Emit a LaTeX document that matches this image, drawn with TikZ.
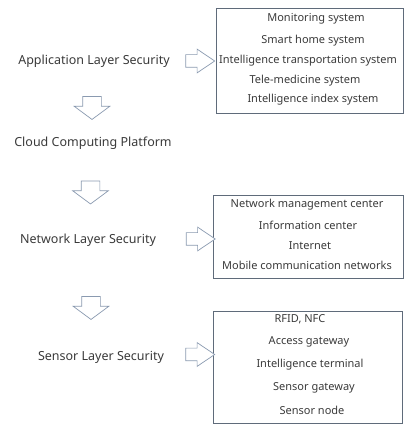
\documentclass[tikz,border=0pt]{standalone}
\usepackage{fontspec}
\setmainfont{Noto Sans}
\usepackage{tikz}
\usetikzlibrary{shapes.arrows}
\definecolor{txtgray}{HTML}{3A3A3A}
\definecolor{boxline}{HTML}{5F6B7A}
\definecolor{arrline}{HTML}{8A9AB0}
\tikzset{
  layer/.style={
    text=txtgray,
    font=\fontsize{12.5}{14}\selectfont
  },
  item/.style={
    text=txtgray,
    font=\fontsize{11}{13}\selectfont,
    text height=8pt,
    text depth=2pt,
    inner sep=0pt
  },
  listbox/.style={
    draw=boxline,
    line width=0.8pt,
    inner sep=0pt
  },
  rightarr/.style={
    single arrow,
    draw=arrline,
    fill=white,
    line width=0.7pt,
    inner sep=0pt,
    inner ysep=6pt,
    minimum height=29pt,
    single arrow head extend=5.5pt,
    single arrow tip angle=68
  },
  downarr/.style={
    single arrow,
    draw=arrline,
    fill=white,
    line width=0.7pt,
    inner sep=0pt,
    inner ysep=9pt,
    minimum height=23pt,
    single arrow head extend=8.5pt,
    single arrow tip angle=107,
    rotate=-90
  }
}

\begin{document}
\begin{tikzpicture}[x=1pt,y=1pt]
  \useasboundingbox (0,0) rectangle (406,426);

  % Layer names on the left
  \node[layer] (app) at (94,365) {Application Layer Security};
  \node[layer] (cloud) at (93,283) {Cloud Computing Platform};
  \node[layer] (net) at (88,186) {Network Layer Security};
  \node[layer] (sensor) at (101,69) {Sensor Layer Security};

  % Hollow arrows going down the stack
  \node[downarr] (down1) at (92,321.5) {};
  \node[downarr] (down2) at (90.5,237) {};
  \node[downarr] (down3) at (91,121.5) {};

  % Boxes holding the parts of each layer
  \node[listbox, minimum width=187pt, minimum height=105pt] (appbox) at (309.5,365.5) {};
  \node[listbox, minimum width=190pt, minimum height=83pt] (netbox) at (308,189.5) {};
  \node[listbox, minimum width=189pt, minimum height=112pt] (sensorbox) at (307.5,59) {};

  % Hollow arrows pointing to the boxes
  \node[rightarr] (appto) at (195.5,365) {};
  \node[rightarr] (netto) at (196,187) {};
  \node[rightarr] (sensorto) at (195.5,71.5) {};

  % Entries of the application box
  \foreach \n/\x/\y/\t in {a1/316/407/{Monitoring system},
                           a2/313/385/{Smart home system},
                           a3/308/365/{Intelligence transportation system},
                           a4/305/345/{Tele-medicine system},
                           a5/313/326/{Intelligence index system}} {
    \node[item] (\n) at (\x,\y) {\t};
  }

  % Entries of the network box
  \foreach \n/\x/\y/\t in {n1/307/221/{Network management center},
                           n2/308/199/{Information center},
                           n3/310/179/{Internet},
                           n4/307/159/{Mobile communication networks}} {
    \node[item] (\n) at (\x,\y) {\t};
  }

  % Entries of the sensor box
  \foreach \n/\x/\y/\t in {s1/300/106/{RFID, NFC},
                           s2/309/84/{Access gateway},
                           s3/310/61/{Intelligence terminal},
                           s4/314/38/{Sensor gateway},
                           s5/312/14/{Sensor node}} {
    \node[item] (\n) at (\x,\y) {\t};
  }
\end{tikzpicture}
\end{document}
